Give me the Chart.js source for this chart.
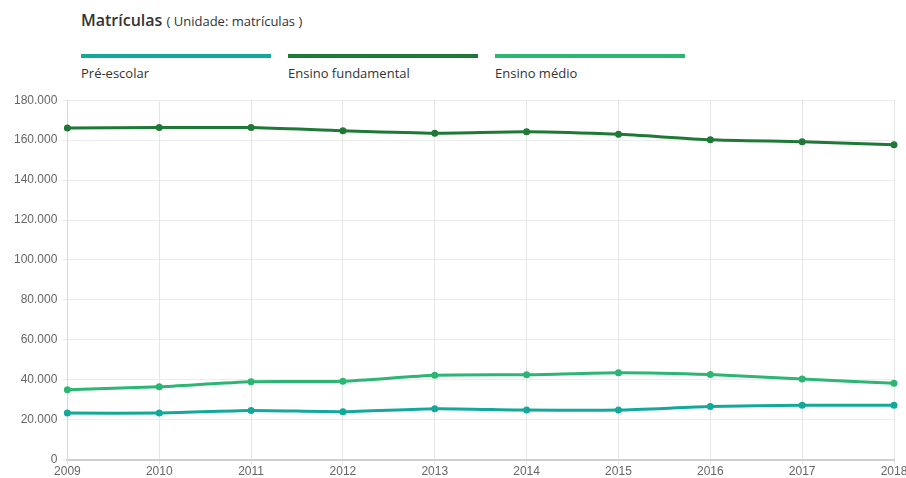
<!DOCTYPE html>
<html>
<head>
<meta charset="utf-8">
<script src="https://cdn.jsdelivr.net/npm/chart.js@4"></script>
<style>
    body { margin: 0; width: 906px; height: 478px; overflow: hidden; background: #fff; font-family: "Open Sans", sans-serif; position: relative; }
    #title { position: absolute; left: 81px; top: 9px; color: #333; font-size: 16px; font-weight: 600; }
    #title span { font-size: 13px; font-weight: 400; }
    .leg { position: absolute; top: 54px; width: 190px; }
    .leg .bar { height: 4px; }
    .leg .lbl { margin-top: 6px; font-size: 13px; color: #333; }
    #wrap { position: absolute; left: 0; top: 88px; width: 940px; height: 391px; }
</style>
</head>
<body>
<div id="title">Matrículas <span>( Unidade: matrículas )</span></div>
<div id="legend"></div>
<div id="wrap"><canvas id="chart"></canvas></div>
<script>
// dados
const anos = ['2009', '2010', '2011', '2012', '2013', '2014', '2015', '2016', '2017', '2018'];
const preEscolar = [23300, 23300, 24600, 24000, 25500, 24800, 24800, 26600, 27200, 27200];
const fundamental = [166100, 166300, 166300, 164700, 163500, 164200, 162900, 160200, 159200, 157700];
const medio = [35000, 36500, 39000, 39200, 42200, 42500, 43500, 42600, 40400, 38200];

const series = [
    { label: 'Pré-escolar', data: preEscolar, color: '#12a99a' },
    { label: 'Ensino fundamental', data: fundamental, color: '#1e7936' },
    { label: 'Ensino médio', data: medio, color: '#2bb673' }
];

// legenda em HTML
const legendEl = document.getElementById('legend');
series.forEach((s, i) => {
    const d = document.createElement('div');
    d.className = 'leg';
    d.style.left = (81 + i * 207) + 'px';
    d.innerHTML = `<div class="bar" style="background:${s.color}"></div><div class="lbl">${s.label}</div>`;
    legendEl.appendChild(d);
});

function fmt(v) {
    return String(v).replace(/\B(?=(\d{3})+(?!\d))/g, '.');
}

new Chart(document.getElementById('chart'), {
    type: 'line',
    data: {
        labels: anos,
        datasets: series.map(s => ({
            label: s.label,
            data: s.data,
            borderColor: s.color,
            backgroundColor: s.color,
            borderWidth: 3,
            pointRadius: 2,
            pointHoverRadius: 2,
            tension: 0.2
        }))
    },
    options: {
        responsive: true,
        maintainAspectRatio: false,
        animation: false,
        layout: { padding: { left: 9, right: 46, top: 0, bottom: 0 } },
        plugins: { legend: { display: false }, tooltip: { enabled: false } },
        scales: {
            x: {
                offset: false,
                grid: { color: '#e6e6e6', tickLength: 5 },
                border: { color: '#d0d0d0', width: 2 },
                ticks: { color: '#666', font: { family: 'Liberation Sans', size: 12 }, maxRotation: 0, padding: 0 }
            },
            y: {
                min: 0,
                max: 180000,
                grid: { color: '#ececec', tickLength: 5 },
                border: { color: '#d8d8d8', width: 1 },
                ticks: { stepSize: 20000, color: '#666', font: { family: 'Liberation Sans', size: 12 }, padding: 5, callback: v => fmt(v) }
            }
        }
    }
});
</script>
</body>
</html>
